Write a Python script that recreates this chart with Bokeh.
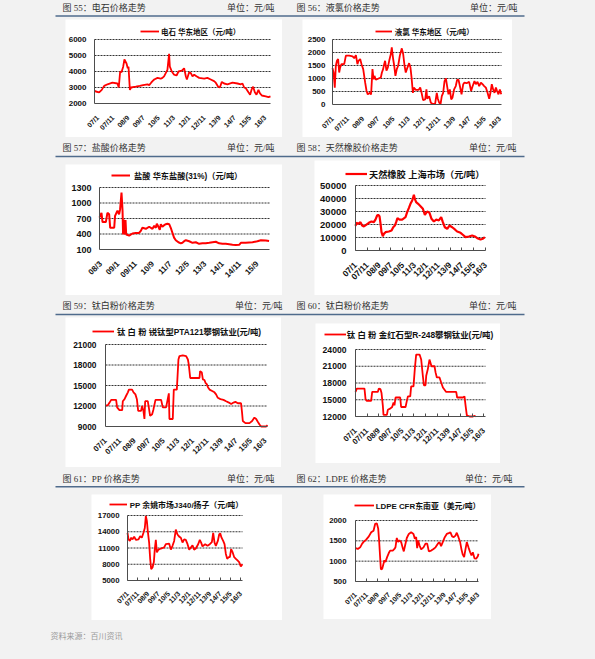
import math
from bokeh.plotting import figure
from bokeh.models import Range1d, FixedTicker, Legend, LegendItem, Spacer
from bokeh.layouts import column, row
from bokeh.core.properties import value
from bokeh.embed import file_html
from bokeh.resources import INLINE

# ------------------------------------------------------------------ data
labels_07 = ["07/1", "07/11", "08/9", "09/7", "10/5", "11/3", "12/1", "12/11",
             "13/9", "14/7", "15/5", "16/3"]
ticks_07 = [0, 10, 20, 30, 40, 50, 60, 70, 80, 90, 100, 110]      # months since 2007/1
labels_08 = ["08/3", "09/1", "09/11", "10/9", "11/7", "12/5", "13/3", "14/1", "14/11", "15/9"]
ticks_08 = [0, 10, 20, 30, 40, 50, 60, 70, 80, 90]                # months since 2008/3

# 图55 电石 华东地区（元/吨）
cc_month = [-2.1, -1.3, 0.9, 2.6, 4.2, 6.4, 9.6, 12.9, 13.8, 14.7,
            15.6, 16.7, 17.5, 18.9, 19.7, 20.2, 21.1, 21.9, 25.0, 27.6,
            29.8, 32.7, 33.8, 35.1, 36.0, 37.1, 39.3, 41.4, 42.5, 43.6,
            44.7, 45.8, 46.9, 47.4, 48.7, 50.2, 51.8, 53.1, 55.3, 56.8,
            57.9, 58.6, 60.1, 61.2, 62.3, 63.4, 64.9, 66.7, 70.0, 72.1,
            74.3, 76.5, 77.6, 79.2, 80.3, 81.6, 83.1, 85.3, 88.6, 91.9,
            94.1, 95.2, 96.3, 97.4, 99.1, 100.2, 101.3, 102.2, 103.3, 104.4,
            105.7, 106.6, 107.9, 110.5, 112.3, 113.6]
cc_price = [2800, 2750, 2700, 2850, 3100, 3200, 3300, 3250, 3000, 4000,
            3950, 4300, 4750, 4500, 4200, 4300, 2850, 3000, 3050, 3100,
            3150, 3200, 3150, 3300, 3400, 3500, 3600, 3550, 3600, 3700,
            3900, 4100, 5100, 4300, 4000, 3800, 3750, 4000, 4050, 4200,
            3700, 3500, 3950, 3900, 3700, 3800, 3700, 3600, 3550, 3600,
            3500, 3400, 3300, 3050, 3000, 3350, 3250, 3200, 3300, 3250,
            3200, 3250, 3000, 2950, 2700, 2550, 2900, 3050, 2700, 2550,
            2850, 2650, 2500, 2450, 2400, 2450]
cc_yticks = [2000, 3000, 4000, 5000, 6000]

# 图56 液氯 华东地区（元/吨）
cl_month = [0, 0.7, 1.5, 2.2, 2.9, 3.7, 4.4, 5.0, 5.9, 7.7,
            8.8, 11.0, 13.2, 14.3, 15.4, 16.4, 17.1, 18.2, 19.1, 20.2,
            21.5, 22.4, 23.2, 24.6, 25.4, 26.3, 27.0, 27.6, 28.5, 30.3,
            31.8, 32.5, 33.3, 34.0, 34.6, 35.5, 36.4, 37.3, 38.4, 39.0,
            39.9, 40.6, 41.4, 42.3, 43.2, 44.3, 45.6, 46.5, 47.4, 48.2,
            49.3, 50.4, 51.3, 52.0, 52.9, 53.5, 54.8, 56.6, 57.7, 58.6,
            59.6, 61.0, 61.8, 62.3, 63.6, 64.7, 65.8, 67.5, 68.6, 69.3,
            70.2, 71.1, 71.9, 72.8, 73.7, 74.6, 75.4, 76.3, 77.2, 78.1,
            78.9, 80.0, 81.1, 82.0, 82.9, 83.8, 84.9, 86.0, 86.8, 88.2,
            89.9, 91.2, 92.1, 93.4, 94.3, 95.4, 96.5, 97.6, 98.7, 99.8,
            100.9, 102.0, 103.1, 103.9, 104.8, 105.7, 106.6, 107.5, 108.3, 109.2,
            110.1, 111.0]
cl_price = [1400, 1230, 650, 1490, 1680, 1750, 1230, 1420, 1550, 1550,
            1880, 1880, 1850, 1780, 1900, 1550, 1680, 1750, 1550, 1360,
            840, 520, 390, 450, 390, 1360, 970, 1100, 950, 1000,
            1040, 1230, 1360, 1550, 1680, 1300, 1420, 1680, 1940, 2200,
            1750, 1490, 1100, 1360, 1490, 1880, 2160, 1940, 1490, 1230,
            1420, 1590, 1420, 1040, 450, 650, 560, 560, 650, 450,
            170, 195, 580, 220, 320, 65, 25, 25, 450, 220,
            65, 25, 320, 450, 900, 1000, 710, 390, 580, 195,
            260, 580, 710, 950, 950, 710, 390, 780, 840, 820,
            870, 520, 690, 900, 780, 870, 710, 840, 780, 710,
            650, 450, 220, 450, 780, 580, 450, 650, 520, 390,
            580, 390]
cl_yticks = [0, 500, 1000, 1500, 2000, 2500]

# 图57 盐酸 华东盐酸(31%)（元/吨）
hc_month = [-0.7, -0.4, 0.4, 1.0, 2.9, 3.8, 4.8, 5.4, 7.7, 8.2,
            9.0, 9.6, 10.5, 11.1, 11.9, 12.5, 12.8, 13.2, 13.6, 14.2,
            14.6, 16.3, 18.2, 20.1, 22.0, 23.0, 23.9, 25.9, 27.8, 29.7,
            30.7, 31.6, 32.2, 33.1, 33.9, 34.5, 35.4, 36.4, 37.4, 38.3,
            39.3, 40.2, 41.2, 42.1, 43.1, 44.6, 46.0, 46.9, 47.9, 48.9,
            50.8, 52.7, 54.6, 56.5, 58.4, 60.3, 62.3, 64.2, 66.1, 68.0,
            69.9, 71.8, 73.8, 75.7, 77.6, 79.5, 80.5, 83.3, 87.2, 90.0,
            92.0, 94.8, 96.7]
hc_price = [720, 750, 810, 630, 630, 810, 780, 520, 520, 750,
            810, 850, 780, 880, 1200, 850, 390, 680, 390, 670,
            390, 370, 410, 420, 420, 460, 520, 500, 540, 500,
            560, 520, 600, 540, 480, 590, 540, 570, 590, 600,
            590, 520, 420, 330, 280, 240, 220, 230, 260, 280,
            260, 230, 240, 210, 220, 220, 230, 240, 250, 220,
            210, 210, 200, 190, 185, 190, 230, 230, 240, 260,
            280, 275, 265]
hc_yticks = [100, 400, 700, 1000, 1300]

# 图58 天然橡胶 上海市场（元/吨）
nr_month = [0, 0.8, 2.3, 4.2, 5.6, 7.1, 9.0, 11.3, 13.5, 15.5,
            16.9, 18.3, 19.2, 20.3, 21.2, 22.0, 23.1, 24.0, 25.4, 28.2,
            30.5, 31.9, 33.3, 34.4, 35.5, 37.2, 39.5, 42.3, 43.7, 45.1,
            46.5, 48.0, 49.4, 50.2, 51.3, 53.0, 55.0, 57.0, 58.7, 60.6,
            62.6, 64.3, 66.3, 68.3, 70.5, 72.5, 73.9, 75.6, 77.6, 79.5,
            81.8, 84.1, 86.0, 88.9, 90.8, 93.1, 95.9, 98.7, 101.0, 103.0,
            105.8, 107.8, 109.4]
nr_price = [19000, 21300, 20500, 21800, 19200, 18500, 19700, 21300, 22300, 21800,
            23800, 26900, 27400, 26400, 20500, 14100, 11000, 12800, 14100, 14600,
            15400, 17900, 19200, 21800, 24900, 23800, 23800, 25600, 29500, 32600,
            35900, 38500, 42800, 39700, 37200, 35900, 34100, 32100, 27400, 30000,
            29000, 24400, 22300, 23800, 23100, 25600, 21800, 17900, 16700, 19200,
            17900, 16200, 14600, 13600, 12100, 10300, 10800, 11500, 10800, 9500,
            8500, 9000, 10300]
nr_yticks = [0, 10000, 20000, 30000, 40000, 50000]

# 图59 钛白粉 锐钛型PTA121攀钢钛业(元/吨)
ta_month = [0, 1.6, 2.8, 3.9, 7.3, 8.0, 9.6, 11.5, 11.9, 13.1,
            14.2, 15.4, 16.1, 18.3, 19.3, 20.6, 21.6, 22.5, 24.5, 25.2,
            26.1, 26.8, 27.3, 29.1, 29.8, 30.7, 32.1, 33.0, 34.4, 38.3,
            39.4, 41.7, 43.6, 44.0, 46.3, 47.0, 49.1, 50.2, 50.9, 53.2,
            55.5, 56.7, 57.3, 58.3, 62.4, 64.7, 65.1, 66.3, 67.0, 68.1,
            68.8, 69.7, 70.6, 71.6, 73.4, 75.0, 76.1, 77.3, 79.1, 81.2,
            83.0, 84.9, 86.5, 88.1, 89.4, 91.1, 93.3, 94.0, 94.5, 96.3,
            99.1, 100.9, 102.5, 103.7, 104.8, 106.0, 107.1, 110.6, 111.5]
ta_price = [12100, 12100, 12500, 12900, 12900, 11800, 11400, 11400, 12700, 13000,
            13500, 14000, 14400, 14400, 14000, 13700, 13000, 11300, 11300, 12000,
            11300, 10100, 12700, 12700, 11800, 10550, 10800, 11500, 12900, 12900,
            11800, 11800, 13850, 10100, 10100, 14400, 14400, 18800, 19300, 19400,
            19300, 18800, 18100, 16100, 16100, 16100, 17100, 16900, 15900, 15800,
            15400, 15200, 14700, 14400, 14200, 14000, 13700, 13200, 13000, 12900,
            12700, 12500, 12300, 12500, 12600, 12400, 12400, 11000, 9800, 9500,
            9500, 9800, 10300, 10100, 9700, 9300, 9000, 9000, 9200]
ta_yticks = [9000, 12000, 15000, 18000, 21000]

# 图60 钛白粉 金红石型R-248攀钢钛业(元/吨)
tr_month = [0, 1.1, 7.7, 8.6, 9.7, 13.4, 14.3, 19.1, 20.0, 21.4,
            22.3, 23.4, 24.0, 26.9, 27.7, 29.7, 31.4, 32.6, 33.4, 34.3,
            38.3, 39.1, 42.9, 44.0, 44.9, 46.9, 47.7, 49.7, 50.9, 52.0,
            54.9, 56.3, 57.7, 58.6, 60.0, 60.6, 62.0, 63.4, 64.3, 65.1,
            67.7, 68.6, 69.7, 72.0, 73.4, 74.9, 76.3, 77.7, 86.3, 87.1,
            92.0, 93.4, 94.3, 95.4, 97.7, 100.6, 102.0, 102.9]
tr_price = [16400, 17000, 17000, 15100, 14800, 14800, 16400, 16400, 17000, 16900,
            16200, 14000, 12300, 12300, 13200, 13400, 13700, 14500, 14000, 15400,
            15400, 13700, 13700, 14800, 15600, 15600, 17400, 17400, 20700, 23100,
            23100, 22200, 19300, 17600, 17600, 19300, 20500, 22200, 21600, 21000,
            21000, 19900, 19000, 19000, 18100, 17200, 16800, 16400, 16400, 15400,
            15400, 15600, 14000, 12200, 12000, 12000, 12100, 12000]
tr_yticks = [12000, 15000, 18000, 21000, 24000]

# 图61 PP 余姚市场J340/扬子（元/吨）
pp_month = [0, 1.0, 2.3, 3.6, 4.9, 6.5, 8.1, 10.7, 12.3, 13.9,
            15.5, 16.8, 17.8, 18.8, 19.7, 21.0, 22.0, 23.0, 24.3, 25.6,
            26.5, 27.5, 28.5, 30.1, 32.4, 35.6, 37.2, 40.5, 42.1, 43.7,
            45.3, 46.9, 48.5, 50.2, 51.8, 53.4, 55.0, 56.6, 58.3, 59.9,
            61.5, 63.1, 64.7, 66.3, 68.6, 70.2, 71.5, 72.8, 75.4, 77.7,
            79.9, 81.9, 83.2, 84.5, 85.8, 87.7, 89.0, 90.0, 91.3, 92.9,
            94.2, 95.5, 96.8, 98.1, 99.4, 100.6, 101.9, 103.6, 105.2, 106.8,
            108.4, 110.0, 111.6]
pp_price = [13800, 12600, 12300, 12900, 12600, 13100, 12500, 12600, 13200, 12900,
            13800, 14700, 16900, 16000, 14100, 12000, 9000, 7100, 7400, 8400,
            10800, 12500, 10200, 10700, 10900, 11100, 11700, 11800, 10700, 11400,
            12300, 14400, 13500, 13100, 12900, 12000, 12600, 12500, 11700, 10700,
            11100, 11500, 10700, 10900, 11700, 12500, 12000, 11300, 11700, 11400,
            11700, 12100, 13800, 12000, 11400, 12300, 13500, 13700, 12900, 12300,
            11700, 9900, 9000, 9300, 9300, 10800, 10300, 9300, 9000, 8700,
            8400, 7600, 8000]
pp_yticks = [5000, 8000, 11000, 14000, 17000]

# 图62 LDPE CFR东南亚（美元/吨）
ld_month = [0, 2.1, 4.2, 6.0, 7.5, 9.6, 12.0, 14.1, 16.2, 17.7,
            19.2, 20.4, 21.3, 22.2, 22.8, 24.0, 25.1, 26.0, 26.9, 28.4,
            29.9, 31.1, 33.5, 35.0, 35.9, 37.1, 38.3, 39.5, 41.0, 42.5,
            43.4, 44.6, 46.1, 47.9, 50.0, 52.1, 53.3, 54.5, 55.4, 56.3,
            57.5, 59.0, 61.1, 62.9, 64.4, 65.9, 68.0, 70.1, 71.9, 74.0,
            75.4, 76.9, 78.4, 80.2, 82.0, 83.8, 85.3, 86.8, 88.3, 89.8,
            91.0, 92.5, 94.0, 95.2, 96.4, 97.6, 98.8, 100.0, 101.5, 103.0,
            104.2, 105.4, 106.9, 108.4, 109.9, 110.5]
ld_price = [1320, 1300, 1340, 1430, 1480, 1530, 1610, 1710, 1750, 1920,
            1930, 1800, 1470, 1060, 800, 810, 930, 1020, 980, 1100,
            1200, 1260, 1260, 1300, 1340, 1570, 1470, 1510, 1470, 1320,
            1240, 1390, 1570, 1670, 1710, 1670, 1550, 1590, 1320, 1510,
            1390, 1290, 1340, 1430, 1430, 1240, 1260, 1300, 1340, 1430,
            1470, 1370, 1470, 1590, 1670, 1690, 1710, 1610, 1590, 1630,
            1700, 1590, 1470, 1290, 1160, 1100, 1290, 1470, 1340, 1220,
            1140, 1220, 1070, 1060, 1120, 1180]
ld_yticks = [500, 1000, 1500, 2000]

# ------------------------------------------------------------------ style
BG = "#f2f2f2"
RED = "#ff0000"
RULE = "#4f6b8c"
HDR_COLOR = "#333333"
HDR_FONT = "Liberation Serif, Noto Sans CJK SC"
CJK_FONT = "Liberation Sans, Noto Sans CJK SC"
AX_FONT = "Liberation Sans"
AXIS_COLOR = "#4d4d4d"
GRID_COLOR = "#333333"
W_ALL = 579


def make_chart(g, xs, ys, yticks, xticks, xlabels, legend_text):
    bl, bt, br, bb = g["box"]          # white box (page px)
    fl, fr, ft, fb = g["frame"]        # plot area (page px)
    t0, ppm = g["tick0"], g["ppm"]     # pixel of month 0, pixels per month
    y0, y1 = yticks[0], yticks[-1]
    vpp = (y1 - y0) / (fb - ft)
    xa0, xa1 = (fl - t0) / ppm, (fr - t0) / ppm
    p = figure(width=br - bl, height=bb - bt,
               x_range=Range1d((bl - t0) / ppm, (br - t0) / ppm),
               y_range=Range1d(y0 - (bb - fb) * vpp, y1 + (ft - bt) * vpp),
               min_border=0, min_border_left=0, min_border_right=0,
               min_border_top=0, min_border_bottom=0,
               toolbar_location=None, output_backend="svg",
               background_fill_color="white", border_fill_color="white",
               outline_line_color=None)
    p.xgrid.visible = False
    p.ygrid.visible = False

    gy = yticks[1:]
    p.segment(x0=[xa0] * len(gy), y0=gy, x1=[xa1] * len(gy), y1=gy,
              line_color=GRID_COLOR, line_dash="2 1", line_width=1)
    r = p.line(xs, ys, line_color=RED, line_width=g["lw"])

    ya = p.yaxis[0]
    ya.fixed_location = xa0
    ya.bounds = (y0, y1)
    ya.ticker = FixedTicker(ticks=yticks)
    ya.major_label_overrides = {t: str(t) for t in yticks}
    ya.major_tick_in = 0
    ya.major_tick_out = 0
    ya.minor_tick_in = 0
    ya.minor_tick_out = 0
    ya.major_label_standoff = g["ystand"]
    ya.major_label_text_font = AX_FONT
    ya.major_label_text_font_style = "bold"
    ya.major_label_text_font_size = f"{g['yfs']}px"
    ya.major_label_text_color = "#111111"
    ya.axis_line_color = AXIS_COLOR

    xa = p.xaxis[0]
    xa.fixed_location = y0
    xa.bounds = (xa0, xa1)
    xa.ticker = FixedTicker(ticks=xticks)
    xa.major_label_overrides = dict(zip(xticks, xlabels))
    xa.major_label_orientation = math.pi / 4
    xa.major_tick_in = 3 if g["xt"] else 0
    xa.major_tick_out = 0
    xa.major_tick_line_color = AXIS_COLOR
    xa.minor_tick_in = 0
    xa.minor_tick_out = 0
    xa.major_label_standoff = g["xstand"]
    xa.major_label_text_font = AX_FONT
    xa.major_label_text_font_style = "bold"
    xa.major_label_text_font_size = f"{g['xfs']}px"
    xa.major_label_text_color = "#111111"
    xa.axis_line_color = AXIS_COLOR

    lx, ly, gw, tx, lfs = g["legend"]
    ih = max(12, int(round(lfs * 1.45)))
    leg = Legend(items=[LegendItem(label=value(legend_text), renderers=[r])],
                 location=(lx - bl, bb - ly - ih / 2), orientation="horizontal",
                 padding=0, margin=0, spacing=0,
                 glyph_width=int(round(gw)), glyph_height=ih, label_height=ih,
                 label_standoff=int(round(tx - lx - gw)),
                 label_text_font=CJK_FONT, label_text_font_size=f"{lfs}px",
                 label_text_font_style="bold",
                 label_text_color="#111111", label_text_baseline="middle",
                 border_line_color=None, background_fill_alpha=0)
    p.add_layout(leg)
    return p


def band(top, bottom, texts, rule_y=None):
    p = figure(width=W_ALL, height=bottom - top,
               x_range=Range1d(8, 8 + W_ALL), y_range=Range1d(bottom, top),
               min_border=0, min_border_left=0, min_border_right=0,
               min_border_top=0, min_border_bottom=0,
               toolbar_location=None, output_backend="svg",
               x_axis_type=None, y_axis_type=None,
               background_fill_color=BG, border_fill_color=BG,
               outline_line_color=None)
    for (x, y, t, align, size, color) in texts:
        p.text(x=[x], y=[y], text=[t], text_align=align, text_baseline="middle",
               text_font=value(HDR_FONT), text_font_size=size, text_color=color)
    if rule_y is not None:
        p.segment(x0=[63], y0=[rule_y], x1=[532], y1=[rule_y],
                  line_color=RULE, line_width=1.5)
    return p


UNIT = "单位：元/吨"
H9 = "9px"

# geometry (page pixels): box l,t,r,b ; frame l,r,t,b
g55 = dict(box=(73, 27, 290, 145), frame=(102, 278, 47, 111), tick0=105.3, ppm=1.52,
           legend=(148, 39, 19, 168.5, 7.5), yfs=8, xfs=7, ystand=8, xstand=13, xt=False, lw=1.8)
g56 = dict(box=(310, 27, 520, 145), frame=(340, 509, 47, 112), tick0=340, ppm=1.52,
           legend=(382.7, 39.3, 17, 402.7, 7.5), yfs=8, xfs=7, ystand=7, xstand=13, xt=False, lw=1.8)
g57 = dict(box=(73, 172, 290, 303), frame=(107, 277, 195, 257), tick0=108.3, ppm=1.74,
           legend=(119, 183.3, 19, 141.7, 8.2), yfs=9, xfs=8, ystand=8, xstand=13, xt=False, lw=2)
g58 = dict(box=(322, 168, 508, 303), frame=(363, 493, 193, 258), tick0=363, ppm=1.182,
           legend=(353, 182.3, 22, 377, 9.2), yfs=9.5, xfs=8.5, ystand=9, xstand=13, xt=True, lw=2.2)
g59 = dict(box=(73, 325, 289, 475), frame=(113, 275, 352, 434), tick0=113, ppm=1.453,
           legend=(100, 339.3, 22, 125, 8.3), yfs=8.4, xfs=7.8, ystand=9, xstand=13, xt=False, lw=1.8)
g60 = dict(box=(323, 331, 508, 471), frame=(363, 493, 357, 424), tick0=363, ppm=1.167,
           legend=(331.7, 342.3, 22, 355, 8.4), yfs=8.6, xfs=7.8, ystand=9, xstand=13, xt=True, lw=1.8)
g61 = dict(box=(99, 502, 290, 628), frame=(135, 250, 523, 588), tick0=135, ppm=1.03,
           legend=(116.7, 512, 18, 137.3, 7.9), yfs=7.8, xfs=7, ystand=8, xstand=12, xt=True, lw=1.8)
g62 = dict(box=(331, 502, 499, 627), frame=(363, 486, 528, 589), tick0=363, ppm=1.113,
           legend=(361.7, 513.3, 20, 384, 7.9), yfs=7.8, xfs=7, ystand=9, xstand=12, xt=True, lw=1.8)

c55 = make_chart(g55, cc_month, cc_price, cc_yticks, ticks_07, labels_07, "电石 华东地区（元/吨）")
c56 = make_chart(g56, cl_month, cl_price, cl_yticks, ticks_07, labels_07, "液氯 华东地区（元/吨）")
c57 = make_chart(g57, hc_month, hc_price, hc_yticks, ticks_08, labels_08, "盐酸 华东盐酸(31%)（元/吨）")
c58 = make_chart(g58, nr_month, nr_price, nr_yticks, ticks_07, labels_07, "天然橡胶 上海市场（元/吨）")
c59 = make_chart(g59, ta_month, ta_price, ta_yticks, ticks_07, labels_07, "钛 白 粉 锐钛型PTA121攀钢钛业(元/吨)")
c60 = make_chart(g60, tr_month, tr_price, tr_yticks, ticks_07, labels_07, "钛 白 粉 金红石型R-248攀钢钛业(元/吨)")
c61 = make_chart(g61, pp_month, pp_price, pp_yticks, ticks_07, labels_07, "PP 余姚市场J340/扬子（元/吨）")
c62 = make_chart(g62, ld_month, ld_price, ld_yticks, ticks_07, labels_07, "LDPE CFR东南亚（美元/吨）")

b1 = band(8, 27, [(70, 15, "图 55：电石价格走势", "left", H9, HDR_COLOR),
                  (282, 15, UNIT, "right", H9, HDR_COLOR),
                  (304, 15, "图 56：液氯价格走势", "left", H9, HDR_COLOR),
                  (525, 15, UNIT, "right", H9, HDR_COLOR)], 23.5)
b2 = band(145, 168, [(70, 155.5, "图 57：盐酸价格走势", "left", H9, HDR_COLOR),
                     (282, 155.5, UNIT, "right", H9, HDR_COLOR),
                     (304, 155.5, "图 58：天然橡胶价格走势", "left", H9, HDR_COLOR),
                     (524, 155.5, UNIT, "right", H9, HDR_COLOR)], 164)
b3 = band(303, 325, [(70, 313, "图 59：钛白粉价格走势", "left", H9, HDR_COLOR),
                     (290, 313, UNIT, "right", H9, HDR_COLOR),
                     (304, 313, "图 60：钛白粉价格走势", "left", H9, HDR_COLOR),
                     (524, 313, UNIT, "right", H9, HDR_COLOR)], 322)
b4 = band(475, 502, [(70, 486, "图 61：PP 价格走势", "left", H9, HDR_COLOR),
                     (282, 486, UNIT, "right", H9, HDR_COLOR),
                     (304, 486, "图 62：LDPE 价格走势", "left", H9, HDR_COLOR),
                     (520, 486, UNIT, "right", H9, HDR_COLOR)], 494.3)
b5 = band(628, 651, [(58, 644, "资料来源：百川资讯", "left", "8px", "#9a9a9a")])

r1 = row(Spacer(width=65, height=118), c55, Spacer(width=20, height=118), c56)
r2 = row(Spacer(width=65, height=135), column(Spacer(width=217, height=4), c57),
         Spacer(width=32, height=135), c58)
r3 = row(Spacer(width=65, height=150), c59, Spacer(width=34, height=150),
         column(Spacer(width=185, height=6), c60))
r4 = row(Spacer(width=91, height=126), c61, Spacer(width=41, height=126), c62)

page = column(b1, r1, b2, r2, b3, r3, b4, r4, b5)

html = file_html(page, INLINE)
html = html.replace("</head>", "<style>html,body{background:#f2f2f2;}</style></head>", 1)
open("out.html", "w").write(html)
